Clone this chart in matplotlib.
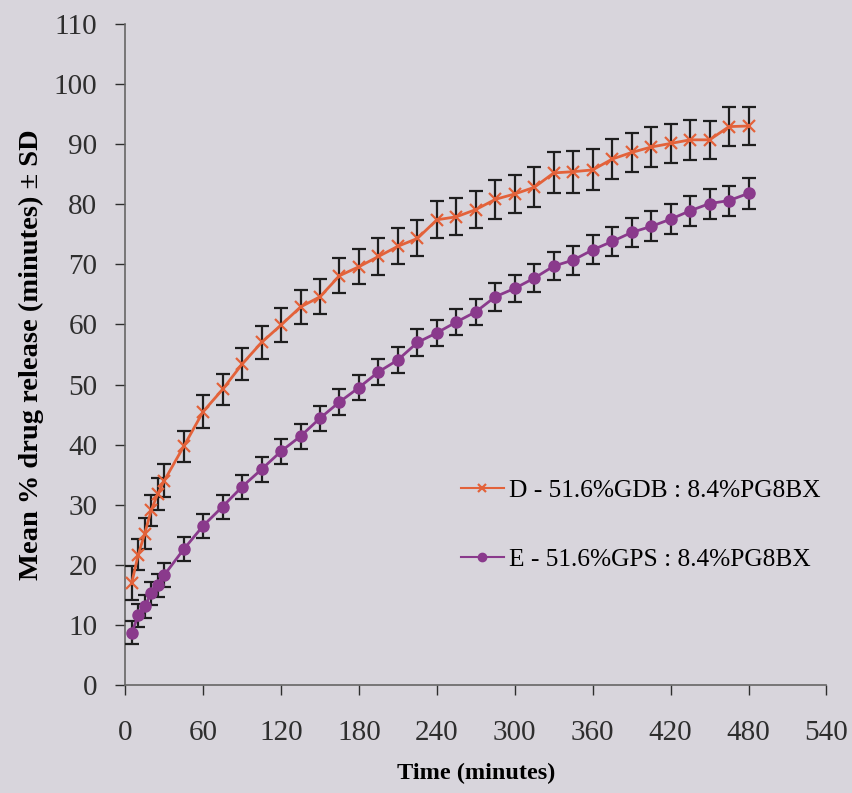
import matplotlib
matplotlib.use('Agg')
import matplotlib.pyplot as plt

# sampling times (minutes)
time_min = [5, 10, 15, 20, 25, 30, 45, 60, 75, 90, 105, 120, 135, 150, 165, 180,
            195, 210, 225, 240, 255, 270, 285, 300, 315, 330, 345, 360, 375, 390,
            405, 420, 435, 450, 465, 480]

# D - 51.6%GDB : 8.4%PG8BX
release_d = [17.0, 21.7, 25.2, 29.1, 31.8, 34.0, 39.7, 45.5, 49.2, 53.4, 57.0, 59.9,
             62.9, 64.6, 68.1, 69.6, 71.3, 73.0, 74.3, 77.4, 77.9, 79.1, 80.8, 81.7,
             82.8, 85.2, 85.4, 85.7, 87.5, 88.6, 89.5, 90.1, 90.7, 90.7, 92.9, 93.0]
sd_d = [2.8, 2.6, 2.6, 2.6, 2.6, 2.7, 2.6, 2.7, 2.6, 2.6, 2.7, 2.8,
        2.8, 2.9, 2.9, 2.9, 3.0, 3.0, 3.0, 3.1, 3.1, 3.1, 3.2, 3.2,
        3.3, 3.4, 3.5, 3.4, 3.3, 3.3, 3.3, 3.3, 3.3, 3.2, 3.2, 3.2]

# E - 51.6%GPS : 8.4%PG8BX
release_e = [8.7, 11.6, 13.1, 15.3, 16.6, 18.3, 22.6, 26.5, 29.7, 33.0, 35.9, 38.9,
             41.4, 44.4, 47.1, 49.5, 52.1, 54.1, 57.0, 58.6, 60.4, 62.1, 64.6, 66.0,
             67.7, 69.7, 70.7, 72.4, 73.8, 75.3, 76.3, 77.5, 78.9, 80.1, 80.6, 81.8]
sd_e = [1.9, 1.9, 1.9, 1.9, 1.9, 2.0, 2.0, 2.0, 2.0, 2.0, 2.1, 2.1,
        2.1, 2.1, 2.1, 2.1, 2.1, 2.2, 2.2, 2.2, 2.2, 2.2, 2.3, 2.3,
        2.3, 2.3, 2.4, 2.4, 2.4, 2.4, 2.5, 2.5, 2.5, 2.5, 2.5, 2.6]

label_d = "D - 51.6%GDB : 8.4%PG8BX"
label_e = "E - 51.6%GPS : 8.4%PG8BX"

x_ticks = [0, 60, 120, 180, 240, 300, 360, 420, 480, 540]
y_ticks = [0, 10, 20, 30, 40, 50, 60, 70, 80, 90, 100, 110]

bg = '#d8d5dc'
plt.rcParams['font.family'] = ['Liberation Serif', 'DejaVu Serif']

fig = plt.figure(figsize=(8.52, 7.93), dpi=100, facecolor=bg)
ax = fig.add_axes([0.147, 0.136, 0.823, 0.834])
ax.set_facecolor(bg)

ax.errorbar(time_min, release_d, yerr=sd_d, color='#e3623a', marker='x', markersize=9,
            markeredgewidth=1.6, linewidth=2, ecolor='#1e1e1e', elinewidth=1.6,
            capsize=5, capthick=1.6, label=label_d, zorder=3)
ax.errorbar(time_min, release_e, yerr=sd_e, color='#8a3a8c', marker='o', markersize=8,
            linewidth=2, ecolor='#1e1e1e', elinewidth=1.6,
            capsize=5, capthick=1.6, label=label_e, zorder=3)

ax.set_xlim(0, 540)
ax.set_ylim(0, 110)
ax.set_xticks(x_ticks)
ax.set_yticks(y_ticks)
ax.tick_params(axis='both', labelsize=21, colors='#2e2e2e', length=7, width=1, direction='out')
ax.tick_params(axis='x', pad=18)
ax.tick_params(axis='y', pad=13)
for s in ['top', 'right']:
    ax.spines[s].set_visible(False)
for s in ['left', 'bottom']:
    ax.spines[s].set_color('#666666')
    ax.spines[s].set_linewidth(1.2)

ax.set_xlabel("Time (minutes)", fontsize=17.5, fontweight='bold', labelpad=12)
ax.set_ylabel("Mean % drug release (minutes) ± SD", fontsize=20.5, fontweight='bold', labelpad=7)

h, l = ax.get_legend_handles_labels()
h = [hh[0] for hh in h]
leg = ax.legend(h, l, loc='center left', bbox_to_anchor=(0.446, 0.242), frameon=False,
                fontsize=18.3, handlelength=1.7, handletextpad=0.2, labelspacing=1.8)
for line in leg.get_lines():
    line.set_markersize(6)
    line.set_linewidth(1.5)

fig.savefig('out.png', dpi=100, facecolor=bg)
